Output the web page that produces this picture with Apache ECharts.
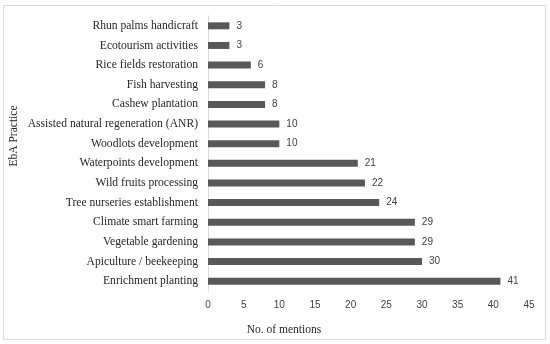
<!DOCTYPE html>
<html><head><meta charset="utf-8">
<script src="https://cdn.jsdelivr.net/npm/echarts@6/dist/echarts.min.js"></script>
<style>html,body{margin:0;padding:0;background:#fff}#c{width:550px;height:344px}</style>
</head><body><div id="c"></div>
<script>
const categories = ["Enrichment planting","Apiculture / beekeeping","Vegetable gardening","Climate smart farming","Tree nurseries establishment","Wild fruits processing","Waterpoints development","Woodlots development","Assisted natural regeneration (ANR)","Cashew plantation","Fish harvesting","Rice fields restoration","Ecotourism activities","Rhun palms handicraft"];
const values = [41,30,29,29,24,22,21,10,10,8,8,6,3,3];
const xTicks = [0,5,10,15,20,25,30,35,40,45];
const xTitle = 'No. of mentions';
const yTitle = 'EbA Practice';

const chart = echarts.init(document.getElementById('c'));
chart.setOption({
  animation:false,
  graphic:[
    {type:'rect',shape:{x:3.5,y:5.5,width:542,height:334},style:{fill:'none',stroke:'#d9d9d9',lineWidth:1},silent:true},
    {type:'text',x:284,y:330,style:{text:xTitle,fontFamily:'Liberation Serif',fontSize:11.5,fill:'#262626',align:'center',verticalAlign:'middle'}},
    {type:'text',x:14,y:136,rotation:Math.PI/2,style:{text:yTitle,fontFamily:'Liberation Serif',fontSize:11.5,fill:'#262626',align:'center',verticalAlign:'middle'}}
  ],
  grid:{left:208,right:21,top:16,bottom:53,containLabel:false,outerBoundsMode:'none'},
  xAxis:{type:'value',min:xTicks[0],max:xTicks[xTicks.length-1],interval:5,
    axisLine:{show:false},axisTick:{show:false},splitLine:{show:false},
    axisLabel:{fontFamily:'Liberation Sans',fontSize:10,color:'#404040',margin:9}},
  yAxis:{type:'category',data:categories,
    axisLine:{show:true,lineStyle:{color:'#d9d9d9'}},axisTick:{show:false},
    axisLabel:{fontFamily:'Liberation Serif',fontSize:11.6,color:'#262626',margin:10}},
  series:[{type:'bar',data:values,barWidth:7,itemStyle:{color:'#595959'},
    label:{show:true,position:'right',distance:7,fontFamily:'Liberation Sans',fontSize:10,color:'#404040'}}]
});
</script></body></html>
